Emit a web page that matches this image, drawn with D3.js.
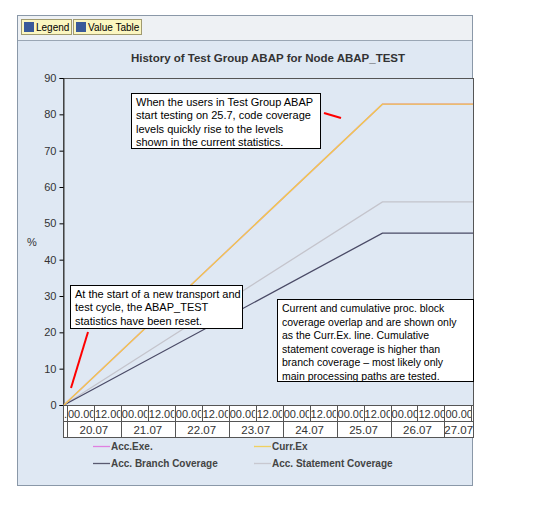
<!DOCTYPE html>
<html><head><meta charset="utf-8">
<script src="https://cdn.jsdelivr.net/npm/d3@7"></script>
<style>body{margin:0;background:#fff}svg{display:block;font-family:Arial,"Liberation Sans",sans-serif}</style>
</head><body><svg id="c" width="538" height="510"></svg>
<script>
// data (hours since 20.07 00:00)
const hours = [-1.3, 140.4, 180.7];
const currEx = [0, 82.8, 82.8];
const accExe = [0, 82.8, 82.8];
const accStatement = [0, 55.9, 55.9];
const accBranch = [0, 47.3, 47.3];
const dayLabels = ["20.07","21.07","22.07","23.07","24.07","25.07","26.07","27.07"];
const yTicks = [0,10,20,30,40,50,60,70,80,90];

const svg = d3.select("#c");
svg.append("rect").attr("x",17.5).attr("y",15.5).attr("width",455).attr("height",470).attr("fill","#dfe8f3").attr("stroke","#8a98a8");
svg.append("rect").attr("x",18).attr("y",16).attr("width",454).attr("height",24).attr("fill","#eef1f4");
svg.append("line").attr("x1",18).attr("x2",472).attr("y1",40.5).attr("y2",40.5).attr("stroke","#9aa6b4");
const btns=[{x:21,w:50,t:"Legend"},{x:73,w:68,t:"Value Table"}];
btns.forEach(b=>{
  svg.append("rect").attr("x",b.x+.5).attr("y",19.5).attr("width",b.w).attr("height",15).attr("fill","#fbf6c0").attr("stroke","#a09a70");
  svg.append("rect").attr("x",b.x+3).attr("y",22).attr("width",10).attr("height",10).attr("fill","#3a5a9a");
  svg.append("text").attr("x",b.x+15).attr("y",31).attr("font-size",10).attr("fill","#000").text(b.t);
});
svg.append("text").attr("x",268).attr("y",62).attr("text-anchor","middle").attr("font-size",11.5).attr("font-weight","bold").attr("fill","#333").text("History of Test Group ABAP for Node ABAP_TEST");

const L=63,R=473,T=78,B=405;
const x=d3.scaleLinear().domain([-1.3,180.7]).range([L+1,R]);
const y=d3.scaleLinear().domain([0,90]).range([B,T]);
svg.append("rect").attr("x",L+.5).attr("y",T+.5).attr("width",R-L).attr("height",B-T).attr("fill","#dfe8f3").attr("stroke","#555");
const ya=svg.append("g").attr("transform",`translate(${L+.5},0)`).call(d3.axisLeft(y).tickValues(yTicks).tickSize(4).tickPadding(3));
ya.select(".domain").attr("stroke","#333");
ya.selectAll("text").attr("font-size",11).attr("fill","#333");
svg.append("text").attr("x",27).attr("y",246).attr("font-size",11).attr("fill","#333").text("%");

const line=d3.line().x((d,i)=>x(hours[i])).y(d=>y(d));
const series=[[accStatement,"#c4c4cc"],[accBranch,"#4a4a66"],[accExe,"#e060e0"],[currEx,"#f0d048"]];
series.forEach(([s,c])=>svg.append("path").attr("d",line(s)).attr("fill","none").attr("stroke",c).attr("stroke-width",1.3));

const g=svg.append("g");
g.append("rect").attr("x",L+.5).attr("y",B+.5).attr("width",R-L).attr("height",32).attr("fill","#fff").attr("stroke","#555");
g.append("line").attr("x1",L).attr("x2",R).attr("y1",B+16.5).attr("y2",B+16.5).attr("stroke","#555");
const halfTicks=d3.range(0,181,12);
halfTicks.forEach(h=>{
  const xx=Math.round(x(h))+.5;
  g.append("line").attr("x1",xx).attr("x2",xx).attr("y1",B).attr("y2",B+(h%24===0?32:16)).attr("stroke","#555");
});
const defs=svg.append("defs");
halfTicks.forEach((h,i)=>{
  const a=x(h), b=Math.min(x(h+12),R);
  if(b<=a) return;
  defs.append("clipPath").attr("id","cl"+i).append("rect").attr("x",a+1).attr("y",B).attr("width",b-a-1.5).attr("height",16);
  const lab=(h%24===0)?"00.00":"12.00";
  svg.append("text").attr("clip-path",`url(#cl${i})`).attr("x",x(h)+1).attr("y",B+13).attr("font-size",11).attr("fill","#333").text(lab);
});
svg.append("text").attr("x",L+1).attr("y",B+13).attr("font-size",11).attr("fill","#333").text(".");
dayLabels.forEach((d,i)=>{
  const a=x(i*24),b=Math.min(x(i*24+24),R);
  svg.append("text").attr("x",(a+b)/2).attr("y",B+29).attr("text-anchor","middle").attr("font-size",11.5).attr("fill","#333").text(d);
});

const leg=[["Acc.Exe.","#e080e0",93,450],["Curr.Ex","#f0d060",254,450],["Acc. Branch Coverage","#5a5a70",93,467],["Acc. Statement Coverage","#c8c8d0",254,467]];
leg.forEach(([t,c,lx,ly])=>{
  svg.append("line").attr("x1",lx).attr("x2",lx+17).attr("y1",ly-3.5).attr("y2",ly-3.5).attr("stroke",c).attr("stroke-width",1.3);
  svg.append("text").attr("x",lx+18).attr("y",ly).attr("font-size",10).attr("font-weight","bold").attr("fill","#444").text(t);
});

function box(x0,y0,w,h,lines,fs,lh){
  svg.append("rect").attr("x",x0+.5).attr("y",y0+.5).attr("width",w).attr("height",h).attr("fill","#fff").attr("stroke","#000");
  lines.forEach((t,i)=>svg.append("text").attr("x",x0+5).attr("y",y0+13+i*lh).attr("font-size",fs).attr("fill","#000").text(t));
}
box(131,93,189,55,["When the users in Test Group ABAP","start testing on 25.7, code coverage","levels quickly rise to the levels","shown in the current statistics."],11,13.3);
box(70,285,172,43,["At the start of a new transport and","test cycle, the ABAP_TEST","statistics have been reset."],11,13.3);
box(277,299,196,82,["Current and cumulative proc. block","coverage overlap and are shown only","as the Curr.Ex. line. Cumulative","statement coverage is higher than","branch coverage – most likely only","main processing paths are tested."],10.5,13.5);
svg.append("line").attr("x1",324).attr("y1",113).attr("x2",341).attr("y2",118).attr("stroke","#f00").attr("stroke-width",2);
svg.append("line").attr("x1",88).attr("y1",332).attr("x2",71).attr("y2",388).attr("stroke","#f00").attr("stroke-width",2);
</script></body></html>
